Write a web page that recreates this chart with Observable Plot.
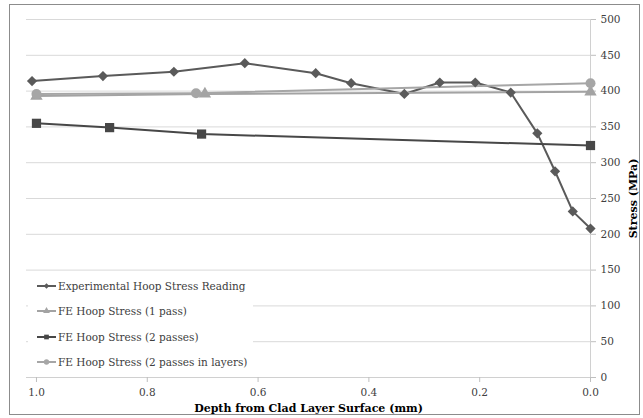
<!DOCTYPE html>
<html>
<head>
<meta charset="utf-8">
<script src="https://cdn.jsdelivr.net/npm/d3@7"></script>
<script src="https://cdn.jsdelivr.net/npm/@observablehq/plot@0.6"></script>
<style>
  html, body { margin: 0; padding: 0; background: #fff; }
  #wrap { position: relative; width: 643px; height: 418px; overflow: hidden; font-family: "DejaVu Serif", serif; }
  #border { position: absolute; left: 9px; top: 4px; width: 631px; height: 411px; border: 1px solid #8c8c8c; box-sizing: border-box; pointer-events: none; }
  #chart { position: absolute; left: 0; top: 0; }
  #legend { position: absolute; left: 28px; top: 273px; width: 225px; height: 101px; background: #fff; }
  .item { position: absolute; left: 9px; height: 16px; display: flex; align-items: center; font-size: 10.5px; color: #404040; white-space: nowrap; }
  .item svg { margin-right: 2px; }
</style>
</head>
<body>
<div id="wrap">
  <div id="chart"></div>
  <div id="legend"></div>
  <div id="border"></div>
</div>
<script>
// Series names
const seriesNames = [
  "Experimental Hoop Stress Reading",
  "FE Hoop Stress (1 pass)",
  "FE Hoop Stress (2 passes)",
  "FE Hoop Stress (2 passes in layers)"
];
// Experimental
const expDepth = [1.008, 0.88, 0.752, 0.624, 0.496, 0.432, 0.336, 0.272, 0.208, 0.144, 0.096, 0.064, 0.032, 0.0];
const expStress = [414, 421, 427, 439, 425, 411, 396, 412, 412, 398, 341, 288, 232, 208];
// FE 1 pass
const fe1Depth = [1.0, 0.696, 0.0];
const fe1Stress = [393, 396, 399];
// FE 2 passes
const fe2Depth = [1.0, 0.868, 0.702, 0.0];
const fe2Stress = [355, 349, 340, 324];
// FE 2 passes in layers
const fe2lDepth = [1.0, 0.712, 0.0];
const fe2lStress = [396, 397, 411];
// Axis ticks
const xTicks = [1.0, 0.8, 0.6, 0.4, 0.2, 0.0];
const yTicks = [0, 50, 100, 150, 200, 250, 300, 350, 400, 450, 500];

const colors = ["#5a5a5a", "#a3a3a3", "#474747", "#a6a6a6"];
const symbols = ["diamond2", "triangle", "square", "circle"];
const radii = [4.6, 4.6, 5.2, 5];

const mk = (xs, ys, s) => xs.map((x, i) => ({depth: x, stress: ys[i], series: s}));
const sets = [
  mk(expDepth, expStress, seriesNames[0]),
  mk(fe1Depth, fe1Stress, seriesNames[1]),
  mk(fe2Depth, fe2Stress, seriesNames[2]),
  mk(fe2lDepth, fe2lStress, seriesNames[3])
];

const marks = [
  Plot.gridY(yTicks, {stroke: "#d9d9d9", strokeOpacity: 1}),
  Plot.ruleX([0], {stroke: "#d0d0d0"}),
  Plot.ruleY([0], {stroke: "#d0d0d0"}),
  Plot.axisX({ticks: xTicks, tickFormat: d3.format(".1f"), tickSize: 5, tickPadding: 6, stroke: "#bfbfbf", fill: "#404040",
    label: "Depth from Clad Layer Surface (mm)", labelAnchor: "center", labelOffset: 34, labelArrow: "none"}),
  Plot.axisY({ticks: yTicks, anchor: "right", tickSize: 5, tickPadding: 5, stroke: "#bfbfbf", fill: "#404040",
    label: "Stress (MPa)", labelAnchor: "center", labelOffset: 46, labelArrow: "none"})
];
sets.forEach((d, i) => {
  marks.push(Plot.line(d, {x: "depth", y: "stress", stroke: colors[i], strokeWidth: 2}));
});
sets.forEach((d, i) => {
  marks.push(Plot.dot(d, {x: "depth", y: "stress", symbol: () => symbols[i], fill: colors[i], stroke: "none", r: radii[i]}));
});

const chart = Plot.plot({
  width: 643, height: 418,
  marginLeft: 26, marginRight: 53, marginTop: 19, marginBottom: 41,
  style: {fontFamily: "DejaVu Serif", fontSize: "10.5px", background: "transparent", color: "#404040", overflow: "visible"},
  x: {type: "linear", domain: [1.018, 0]},
  y: {type: "linear", domain: [0, 500]},
  symbol: {type: "identity"},
  marks
});
document.getElementById("chart").appendChild(chart);
d3.select(chart).selectAll('[aria-label="x-axis label"] text, [aria-label="y-axis label"] text')
  .attr("font-weight", "bold").attr("fill", "#000").style("font-size", "11px");

// Legend
const leg = document.getElementById("legend");
const symPath = {
  diamond2: d3.symbol(d3.symbolDiamond2, 20)(),
  triangle: d3.symbol(d3.symbolTriangle, 20)(),
  square: d3.symbol(d3.symbolSquare, 22)(),
  circle: d3.symbol(d3.symbolCircle, 22)()
};
const tops = [5, 30, 56, 81];
seriesNames.forEach((n, i) => {
  const div = document.createElement("div");
  div.className = "item";
  div.style.top = tops[i] + "px";
  const sym = symPath[symbols[i]];
  div.innerHTML = `<svg width="19" height="10" viewBox="0 0 19 10"><line x1="0" x2="19" y1="5" y2="5" stroke="${colors[i]}" stroke-width="2"/><path transform="translate(9.5,5)" d="${sym}" fill="${colors[i]}"/></svg><span>${n}</span>`;
  leg.appendChild(div);
});
</script>
</body>
</html>
